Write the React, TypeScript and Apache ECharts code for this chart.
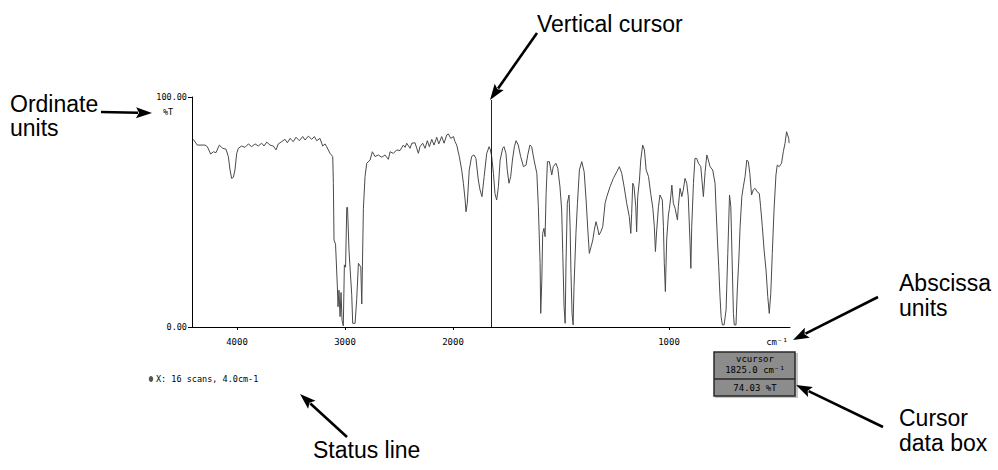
import React, { useEffect, useRef } from "react";
import * as echarts from "echarts";

// Spectrum (wavenumber in cm-1, transmittance in %T)
const WAVENUMBER = [
  4405, 4368, 4296, 4275, 4244, 4219, 4195, 4164, 4133, 4102, 4080, 4065, 4050, 4034, 4019, 4003,
  3988, 3957, 3926, 3895, 3864, 3833, 3803, 3772, 3750, 3725, 3695, 3664, 3639, 3618, 3586, 3556,
  3534, 3509, 3479, 3454, 3423, 3392, 3370, 3340, 3308, 3284, 3262, 3232, 3207, 3185, 3170, 3139,
  3114, 3108, 3102, 3088, 3071, 3065, 3056, 3046, 3037, 3028, 3016, 3006, 2995, 2984, 2977, 2963,
  2938, 2929, 2907, 2892, 2876, 2854, 2845, 2830, 2815, 2799, 2768, 2747, 2722, 2692, 2660, 2630,
  2599, 2583, 2553, 2521, 2491, 2460, 2444, 2429, 2398, 2382, 2352, 2336, 2321, 2306, 2281, 2259,
  2238, 2219, 2197, 2176, 2151, 2132, 2105, 2083, 2058, 2043, 2021, 1998, 1991, 1983, 1971, 1960,
  1952, 1944, 1940, 1934, 1925, 1914, 1903, 1894, 1883, 1875, 1866, 1856, 1844, 1833, 1827, 1821,
  1813, 1806, 1798, 1790, 1782, 1770, 1764, 1755, 1749, 1741, 1733, 1725, 1716, 1708, 1698, 1687,
  1674, 1662, 1654, 1644, 1636, 1625, 1612, 1605, 1597, 1594, 1589, 1585, 1579, 1574, 1569, 1563,
  1554, 1543, 1536, 1524, 1515, 1505, 1497, 1492, 1486, 1481, 1477, 1471, 1463, 1458, 1454, 1449,
  1444, 1440, 1431, 1424, 1415, 1404, 1393, 1384, 1376, 1369, 1361, 1353, 1346, 1338, 1332, 1324,
  1316, 1307, 1296, 1288, 1273, 1258, 1242, 1230, 1219, 1208, 1196, 1184, 1177, 1173, 1168, 1162,
  1154, 1150, 1145, 1137, 1131, 1122, 1114, 1106, 1095, 1085, 1075, 1068, 1063, 1057, 1049, 1042,
  1031, 1026, 1022, 1017, 1011, 1003, 998, 992, 987, 980, 972, 961, 957, 949, 941, 934,
  926, 918, 911, 903, 899, 895, 887, 880, 872, 864, 853, 841, 833, 825, 818, 810,
  798, 787, 782, 776, 770, 764, 759, 753, 745, 736, 728, 720, 714, 708, 702, 698,
  690, 684, 677, 671, 663, 656, 648, 640, 633, 626, 618, 610, 602, 592, 582, 576,
  568, 560, 551, 543, 536, 529, 522, 514, 505, 499, 490, 479, 471, 463, 456, 446, 444,
];
const TRANSMITTANCE = [
  81.6, 79.1, 79.1, 78.4, 75.2, 76.2, 75.8, 79.1, 77.7, 77.3, 74.0, 68.3, 64.6, 65.1, 68.3, 75.5,
  77.7, 78.7, 78.1, 79.6, 78.4, 79.6, 78.7, 79.9, 78.7, 80.4, 79.1, 78.7, 77.0, 79.6, 80.6, 81.6,
  80.1, 82.0, 80.6, 82.5, 81.0, 82.8, 81.3, 83.0, 81.6, 82.8, 81.0, 82.0, 78.7, 79.6, 78.4, 75.5,
  74.1, 62.5, 37.8, 36.0, 17.5, 8.8, 16.0, 4.5, 15.0, 3.0, 0.5, 27.0, 26.0, 52.0, 52.0, 33.0,
  14.0, 1.6, 1.6, 12.0, 27.7, 26.0, 10.0, 51.6, 65.4, 71.2, 72.6, 76.2, 74.1, 74.8, 73.8, 74.8,
  72.9, 76.2, 75.5, 77.0, 76.7, 79.1, 78.1, 79.9, 77.7, 79.9, 80.1, 77.7, 75.5, 78.4, 79.9, 77.7,
  81.0, 78.4, 81.6, 79.1, 82.5, 79.6, 82.8, 79.9, 83.5, 83.9, 82.0, 82.8, 80.6, 79.1, 74.1, 68.3,
  62.5, 55.2, 50.1, 53.8, 68.3, 74.1, 74.8, 73.3, 63.9, 59.6, 56.7, 65.4, 75.5, 78.4, 77.0, 74.1,
  66.8, 58.1, 55.2, 61.0, 72.6, 77.7, 78.4, 75.5, 68.3, 62.5, 65.4, 72.6, 78.4, 81.0, 79.1, 74.1,
  69.7, 70.4, 74.8, 79.1, 78.4, 72.6, 66.8, 52.3, 27.7, 5.9, 20.4, 40.7, 42.9, 39.3, 58.1, 71.9,
  71.9, 66.1, 69.7, 71.2, 69.0, 61.0, 50.9, 32.0, 8.8, 1.6, 27.7, 53.8, 57.4, 43.6, 23.3, 5.9,
  0.9, 17.5, 40.7, 53.8, 68.3, 71.9, 67.5, 55.2, 42.2, 32.0, 34.9, 37.8, 42.2, 45.8, 43.6, 40.0,
  41.4, 43.6, 53.8, 56.7, 61.0, 64.6, 67.5, 69.7, 66.8, 61.0, 53.8, 48.0, 40.7, 49.4, 62.5, 61.0,
  52.3, 41.4, 56.7, 63.9, 72.6, 79.1, 77.0, 68.3, 65.4, 58.1, 51.6, 43.6, 32.8, 42.2, 52.3, 57.4,
  55.2, 43.6, 27.7, 15.4, 37.8, 48.7, 51.6, 56.7, 61.7, 53.8, 51.6, 46.5, 52.3, 60.3, 56.7, 59.6,
  64.6, 62.5, 56.7, 37.1, 25.5, 43.6, 62.5, 73.3, 73.3, 71.2, 69.7, 56.7, 67.5, 74.8, 72.6, 69.7,
  68.3, 62.5, 50.9, 37.8, 26.2, 13.2, 4.5, 0.9, 0.9, 7.4, 32.0, 57.4, 52.3, 29.1, 5.9, 0.9,
  0.9, 16.1, 29.1, 43.6, 56.7, 61.0, 65.4, 72.6, 71.9, 66.8, 57.4, 59.6, 60.3, 58.8, 58.1, 52.3,
  43.6, 33.5, 24.8, 13.2, 5.9, 14.6, 32.0, 50.9, 66.1, 70.4, 69.7, 71.2, 76.2, 79.9, 84.9, 82.0, 79.9,
];

const X_TICKS = [4000, 3000, 2000, 1000];
const WN_HIGH = 4417; // left end of the abscissa
const WN_LOW = 440; // right end of the abscissa
const WN_BREAK = 2000; // scale doubles below this wavenumber
const Y_TICKS = [0, 100];
const CURSOR_WN = 1825.0;
const CURSOR_T = 74.03;
const CURSOR_TOP = 98.7; // %T where the cursor line starts
const STATUS_TEXT = "X: 16 scans, 4.0cm-1";

// piecewise-linear abscissa (IR convention: expanded scale below 2000 cm-1)
const toAxis = (w: number) =>
  w >= WN_BREAK ? WN_HIGH - w : WN_HIGH - WN_BREAK + 2 * (WN_BREAK - w);
const fromAxis = (t: number) =>
  t <= WN_HIGH - WN_BREAK ? WN_HIGH - t : WN_BREAK - (t - (WN_HIGH - WN_BREAK)) / 2;

const MONO = "'DejaVu Sans Mono', 'Liberation Mono', monospace";
const SANS = "'Liberation Sans', Arial, Helvetica, sans-serif";

function arrow(x1: number, y1: number, x2: number, y2: number) {
  const len = 16;
  const half = 5.5;
  const dx = x2 - x1;
  const dy = y2 - y1;
  const d = Math.sqrt(dx * dx + dy * dy);
  const ux = dx / d;
  const uy = dy / d;
  const bx = x2 - ux * len;
  const by = y2 - uy * len;
  const px = -uy;
  const py = ux;
  return [
    {
      type: "line",
      shape: { x1, y1, x2: bx + ux * 2, y2: by + uy * 2 },
      style: { stroke: "#000", lineWidth: 2.6 },
    },
    {
      type: "polygon",
      shape: {
        points: [
          [x2, y2],
          [bx + px * half, by + py * half],
          [bx + ux * 3, by + uy * 3],
          [bx - px * half, by - py * half],
        ],
      },
      style: { fill: "#000" },
    },
  ];
}

function label(text: string, x: number, y: number) {
  return {
    type: "text",
    x,
    y,
    style: {
      text,
      fill: "#000",
      font: `23px ${SANS}`,
      align: "left",
      verticalAlign: "middle",
    },
  };
}

function mono(text: string, x: number, y: number, align = "center", size = 8.5) {
  return {
    type: "text",
    x,
    y,
    style: {
      text,
      fill: "#000",
      font: `${size}px ${MONO}`,
      align,
      verticalAlign: "middle",
    },
  };
}

export default function App() {
  const ref = useRef<HTMLDivElement>(null);

  useEffect(() => {
    document.body.style.margin = "0";
    const chart = echarts.init(ref.current!, null, { renderer: "svg" });
    const data = WAVENUMBER.map((w, i) => [toAxis(w), TRANSMITTANCE[i]]);
    const xTickValues = X_TICKS.map(toAxis);
    const cursorX = toAxis(CURSOR_WN);

    chart.setOption({
      animation: false,
      backgroundColor: "#fff",
      grid: { left: 192, right: 208, top: 97, bottom: 143, containLabel: false },
      xAxis: {
        type: "value",
        min: 0,
        max: toAxis(WN_LOW),
        axisLine: { show: true, lineStyle: { color: "#000", width: 1 } },
        axisTick: {
          show: true,
          customValues: xTickValues,
          length: 3,
          lineStyle: { color: "#000" },
        },
        axisLabel: {
          show: true,
          customValues: xTickValues,
          formatter: (v: number) => String(Math.round(fromAxis(v))),
          fontFamily: MONO,
          fontSize: 9,
          color: "#000",
          margin: 10,
        },
        splitLine: { show: false },
      },
      yAxis: {
        type: "value",
        min: Y_TICKS[0],
        max: Y_TICKS[1],
        interval: Y_TICKS[1] - Y_TICKS[0],
        axisLine: { show: true, lineStyle: { color: "#000", width: 1 } },
        axisTick: { show: true, length: 4, lineStyle: { color: "#000" } },
        axisLabel: {
          formatter: (v: number) => v.toFixed(2),
          fontFamily: MONO,
          fontSize: 8.5,
          color: "#000",
          margin: 5,
        },
        splitLine: { show: false },
      },
      series: [
        {
          type: "line",
          data,
          showSymbol: false,
          symbol: "none",
          lineStyle: { color: "#4a4a4a", width: 1 },
          markLine: {
            silent: true,
            symbol: "none",
            label: { show: false },
            lineStyle: { color: "#222", width: 1, type: "solid" },
            data: [[{ coord: [cursorX, 0] }, { coord: [cursorX, CURSOR_TOP] }]],
          },
        },
      ],
      graphic: [
        mono("%T", 168, 112, "center", 8.5),
        mono("cm⁻¹", 777, 342, "center", 9),
        // status line
        { type: "ellipse", shape: { cx: 151, cy: 379, rx: 2.2, ry: 3 }, style: { fill: "#555" } },
        mono(STATUS_TEXT, 156, 379, "left", 8.5),
        // cursor data box
        { type: "rect", shape: { x: 715, y: 353, width: 83, height: 45 }, style: { fill: "#c4c4c4" } },
        {
          type: "rect",
          shape: { x: 714, y: 352, width: 81, height: 44 },
          style: { fill: "#8c8c8c", stroke: "#2a2a2a", lineWidth: 1.5 },
        },
        { type: "line", shape: { x1: 714, y1: 379, x2: 795, y2: 379 }, style: { stroke: "#2a2a2a", lineWidth: 1.5 } },
        mono("vcursor", 755, 359, "center", 9),
        mono(`${CURSOR_WN.toFixed(1)} cm⁻¹`, 755, 370, "center", 9),
        mono(`${CURSOR_T.toFixed(2)} %T`, 755, 387.5, "center", 9),
        // annotations
        label("Vertical cursor", 537, 24),
        label("Ordinate", 10, 104),
        label("units", 10, 128),
        label("Abscissa", 899, 283),
        label("units", 899, 308),
        label("Cursor", 899, 418),
        label("data box", 899, 443),
        label("Status line", 313, 450),
        ...arrow(537, 33, 490, 100),
        ...arrow(101, 112, 152, 113),
        ...arrow(878, 297, 793, 340),
        ...arrow(883, 427, 796, 385),
        ...arrow(347, 437, 300, 394),
      ],
    });
    return () => chart.dispose();
  }, []);

  return <div ref={ref} style={{ width: 998, height: 470 }} />;
}
